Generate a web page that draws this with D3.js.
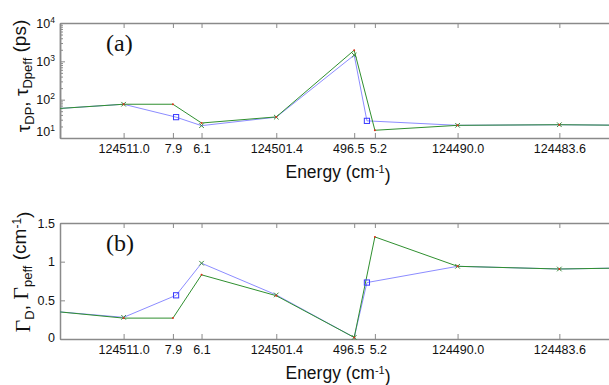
<!DOCTYPE html>
<html>
<head>
<meta charset="utf-8">
<script src="https://cdn.jsdelivr.net/npm/d3@7"></script>
<style>
body{margin:0;background:#fff}
text{font-family:"Liberation Sans", Arial, sans-serif;fill:#111}
.serif{font-family:"Liberation Serif","Times New Roman",serif}
</style>
</head>
<body>
<div id="chart"></div>
<script>
// CHART START
const width = 609
const height = 385
const margin = {left:60, rightX:616.6}

// datos
const energyTicks = [124511.0, 124507.9, 124506.1, 124501.4, 124496.5, 124495.2, 124490.0, 124483.6]
const tickLabels = ["124511.0", "7.9", "6.1", "124501.4", "496.5", "5.2", "124490.0", "124483.6"]
const energyBlue  = [124515.0, 124511.0, 124507.7, 124506.1, 124501.4, 124496.5, 124495.7, 124490.0, 124483.6, 124479.0]
const energyGreen = [124515.0, 124511.0, 124507.9, 124506.1, 124501.4, 124496.5, 124495.2, 124490.0, 124483.6, 124479.0]
const tauBlue   = [59, 76, 35, 21, 35, 1450, 28, 21.4, 22.2, 21.4]
const tauGreen  = [59, 76, 76, 24.6, 35.5, 1950, 15.9, 21.4, 22.2, 21.4]
const gammaBlue  = [0.35, 0.28, 0.565, 0.98, 0.57, 0.02, 0.73, 0.94, 0.905, 0.92]
const gammaGreen = [0.35, 0.27, 0.27, 0.83, 0.56, 0.02, 1.32, 0.94, 0.905, 0.92]
const blueMarkers = ["", "x", "s", "x", "x", "x", "s", "x", "x", ""]
const tauTicks = [10, 100, 1000, 10000]
const gammaTicks = [0, 0.5, 1, 1.5]

// colores
const colBlue = "#8c8cff"
const colGreen = "#2f8f2f"
const colAxis = "#8a8a8a"

const svg = d3.select("#chart")
    .append("svg")
    .attr("width", width)
    .attr("height", height)

const x = d3.scaleLinear()
    .domain([124515, 124480])
    .range([margin.left, margin.rightX])

// paneles
const panels = [
    {top:23, bottom:138, blue:tauBlue, green:tauGreen, log:true, tag:"(a)"},
    {top:223, bottom:339, blue:gammaBlue, green:gammaGreen, log:false, tag:"(b)"}
]

panels.forEach((p, idx) => {
    const y = p.log
        ? d3.scaleLog().domain([10, 10000]).range([p.bottom, p.top])
        : d3.scaleLinear().domain([0, 1.5]).range([p.bottom, p.top])

    const g = svg.append("g")

    // clip
    svg.append("clipPath").attr("id", "clip" + idx)
        .append("rect")
        .attr("x", margin.left).attr("y", p.top - 10)
        .attr("width", margin.rightX - margin.left).attr("height", p.bottom - p.top + 20)

    // ejes x (abajo y arriba)
    const xAxisBottom = d3.axisBottom(x)
        .tickValues(energyTicks)
        .tickFormat((d, i) => tickLabels[i])
        .tickSizeInner(-5).tickSizeOuter(0).tickPadding(6)
    const xb = g.append("g").attr("transform", `translate(0,${p.bottom})`).call(xAxisBottom)
    xb.selectAll("text").attr("font-size", "12.5px").attr("font-family", null)
    // 496.5 y 5.2 estan muy juntos, se separan un poco
    xb.selectAll(".tick text").attr("dx", (d, i) => i === 4 ? -6 : (i === 5 ? 3 : 0))

    const xAxisTop = d3.axisTop(x)
        .tickValues(energyTicks).tickFormat("")
        .tickSizeInner(-5).tickSizeOuter(0)
    g.append("g").attr("transform", `translate(0,${p.top})`).call(xAxisTop)

    // eje y
    let yAxis
    if (p.log) {
        yAxis = d3.axisLeft(y).tickValues(tauTicks).tickFormat("")
            .tickSizeInner(-5).tickSizeOuter(0).tickPadding(5)
        // ticks menores
        const minors = []
        for (let dec = 10; dec < 10000; dec *= 10) {
            for (let k = 2; k < 10; k++) minors.push(dec * k)
        }
        g.append("g").attr("transform", `translate(${margin.left},0)`)
            .call(d3.axisLeft(y).tickValues(minors).tickFormat("").tickSizeInner(-3).tickSizeOuter(0))
    } else {
        yAxis = d3.axisLeft(y).tickValues(gammaTicks).tickFormat(d3.format(""))
            .tickSizeInner(-5).tickSizeOuter(0).tickPadding(5)
    }
    const ya = g.append("g").attr("transform", `translate(${margin.left},0)`).call(yAxis)
    ya.selectAll("text").attr("font-size", "12.5px").attr("font-family", null)
    if (p.log) {
        ya.selectAll(".tick text").each(function(d) {
            const t = d3.select(this)
            t.text("10")
            t.append("tspan").attr("dy", "-0.55em").attr("font-size", "8.5px").text(Math.round(Math.log10(d)))
            if (d === 10) t.attr("y", -7)
        })
    } else {
        ya.selectAll(".tick text").filter(d => d === 0).attr("y", -2)
    }

    g.selectAll(".domain").attr("stroke", colAxis).attr("stroke-width", 1.5)
    g.selectAll(".tick line").attr("stroke", colAxis).attr("stroke-width", 1)

    // lineas
    const line = d3.line()
    const blueData = energyBlue.map((e, i) => [x(e), y(p.blue[i])])
    const greenData = energyGreen.map((e, i) => [x(e), y(p.green[i])])
    const plot = svg.append("g").attr("clip-path", `url(#clip${idx})`)

    plot.append("path").attr("d", line(blueData))
        .attr("fill", "none").attr("stroke", colBlue).attr("stroke-width", 1)
    plot.append("path").attr("d", line(greenData))
        .attr("fill", "none").attr("stroke", colGreen).attr("stroke-width", 1)

    // marcadores serie azul
    blueData.forEach((d, i) => {
        if (blueMarkers[i] === "x") {
            plot.append("path")
                .attr("d", `M${d[0]-2.3},${d[1]-2.3}L${d[0]+2.3},${d[1]+2.3}M${d[0]-2.3},${d[1]+2.3}L${d[0]+2.3},${d[1]-2.3}`)
                .attr("stroke", "#3c8a3c").attr("stroke-width", 1)
        } else if (blueMarkers[i] === "s") {
            plot.append("rect")
                .attr("x", d[0] - 2.6).attr("y", d[1] - 2.6)
                .attr("width", 5.2).attr("height", 5.2)
                .attr("fill", "none").attr("stroke", "#3a3aff").attr("stroke-width", 1)
        }
    })
    // puntos rojos serie verde
    plot.selectAll("circle.dot").data(greenData.slice(1, -1))
        .enter().append("circle")
        .attr("cx", d => d[0]).attr("cy", d => d[1]).attr("r", 1)
        .attr("fill", "#e0301c")

    // etiqueta (a)/(b)
    svg.append("text").attr("class", "serif")
        .attr("x", 106).attr("y", p.top + 28)
        .attr("font-size", "24px")
        .text(p.tag)

    // etiqueta eje x
    const xl = svg.append("text")
        .attr("x", 338).attr("y", p.bottom + 40)
        .attr("text-anchor", "middle")
        .attr("font-size", "17.5px")
    xl.append("tspan").text("Energy (cm")
    xl.append("tspan").attr("dy", "-0.45em").attr("font-size", "11px").text("-1")
    xl.append("tspan").attr("dy", "0.45em").text(")")
})

// etiqueta eje y (a)
const yl1 = svg.append("text")
    .attr("transform", "translate(30,76) rotate(-90)")
    .attr("text-anchor", "middle")
    .attr("font-size", "19px")
yl1.append("tspan").text("τ")
yl1.append("tspan").attr("dy", "0.3em").attr("font-size", "13px").text("DP")
yl1.append("tspan").attr("dy", "-0.3em").text(", τ")
yl1.append("tspan").attr("dy", "0.3em").attr("font-size", "13px").text("Dpeff")
yl1.append("tspan").attr("dy", "-0.3em").text(" (ps)")

// etiqueta eje y (b)
const yl2 = svg.append("text")
    .attr("transform", "translate(30,272) rotate(-90)")
    .attr("text-anchor", "middle")
    .attr("font-size", "19px")
yl2.append("tspan").attr("class", "serif").attr("font-size", "22px").text("Γ")
yl2.append("tspan").attr("dy", "0.3em").attr("font-size", "13px").text("D")
yl2.append("tspan").attr("dy", "-0.3em").text(", ")
yl2.append("tspan").attr("class", "serif").attr("font-size", "22px").text("Γ")
yl2.append("tspan").attr("dy", "0.3em").attr("font-size", "13px").text("peff")
yl2.append("tspan").attr("dy", "-0.3em").text(" (cm")
yl2.append("tspan").attr("dy", "-0.45em").attr("font-size", "12px").text("-1")
yl2.append("tspan").attr("dy", "0.45em").text(")")
</script>
</body>
</html>
